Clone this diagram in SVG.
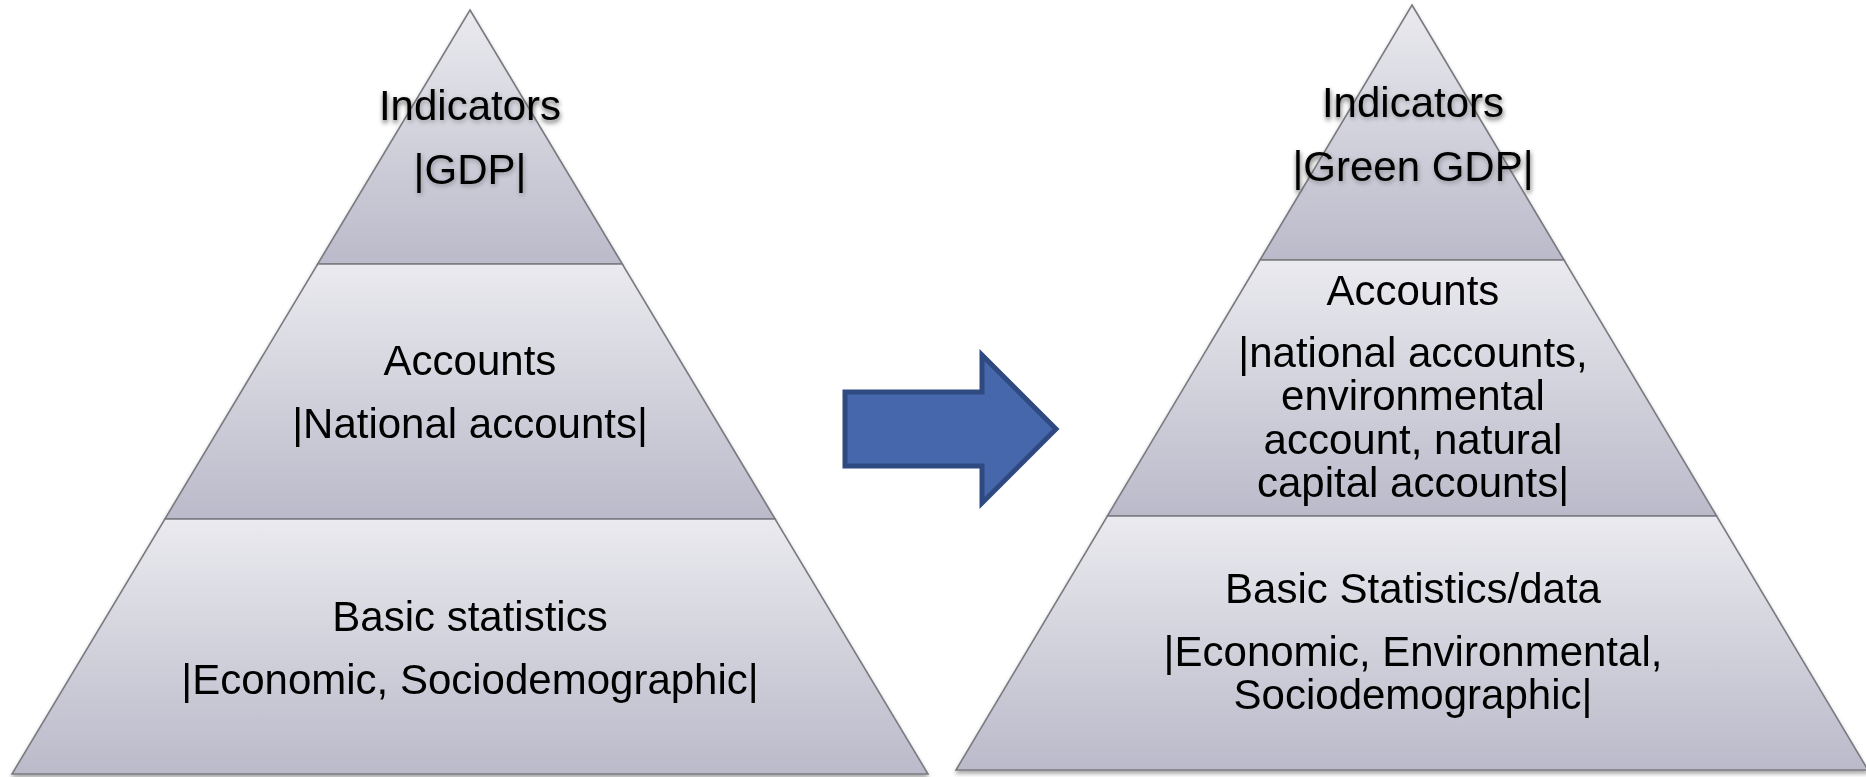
<svg xmlns="http://www.w3.org/2000/svg" width="1866" height="777" viewBox="0 0 1866 777">
<style>
.seg{stroke:#7a7a80;stroke-width:1.6;fill:url(#g)}
.t{font-family:"Liberation Sans",Arial,sans-serif;font-size:42px;fill:#000;text-anchor:middle}
.arrow{fill:#4767AD;stroke:#2F4A80;stroke-width:5;stroke-linejoin:miter}
</style>
<defs>
<linearGradient id="g" x1="0" y1="0" x2="0" y2="1">
<stop offset="0" stop-color="#EAEAEF"/>
<stop offset="1" stop-color="#BABACA"/>
</linearGradient>
<filter id="sh" x="-5%" y="-5%" width="110%" height="115%">
<feGaussianBlur in="SourceAlpha" stdDeviation="2"/>
<feOffset dx="0" dy="3"/>
<feComponentTransfer><feFuncA type="linear" slope="0.35"/></feComponentTransfer>
<feMerge><feMergeNode/><feMergeNode in="SourceGraphic"/></feMerge>
</filter>
<filter id="ts" x="-10%" y="-30%" width="120%" height="160%">
<feGaussianBlur in="SourceAlpha" stdDeviation="2.5"/>
<feOffset dx="1" dy="2"/>
<feComponentTransfer><feFuncA type="linear" slope="0.3"/></feComponentTransfer>
<feMerge><feMergeNode/><feMergeNode in="SourceGraphic"/></feMerge>
</filter>
</defs>
<rect width="1866" height="777" fill="#fff"/>

<g id="left-pyramid" filter="url(#sh)">
<g id="left-indicators">
<polygon class="seg" points="470,10 622.3,264 317.7,264"/>
<text class="t" x="470" y="120" filter="url(#ts)">Indicators</text>
<text class="t" x="470" y="184" filter="url(#ts)">|GDP|</text>
</g>
<g id="left-accounts">
<polygon class="seg" points="317.7,264 622.3,264 775.1,519 164.9,519"/>
<text class="t" x="470" y="375">Accounts</text>
<text class="t" x="470" y="438">|National accounts|</text>
</g>
<g id="left-basic">
<polygon class="seg" points="164.9,519 775.1,519 928,774 12,774"/>
<text class="t" x="470" y="631">Basic statistics</text>
<text class="t" x="470" y="694">|Economic, Sociodemographic|</text>
</g>
</g>

<g id="right-pyramid" filter="url(#sh)">
<g id="right-indicators">
<polygon class="seg" points="1412,5 1564,260 1260,260"/>
<text class="t" x="1413" y="117" filter="url(#ts)">Indicators</text>
<text class="t" x="1413" y="181" filter="url(#ts)">|Green GDP|</text>
</g>
<g id="right-accounts">
<polygon class="seg" points="1260,260 1564,260 1716.6,516 1107.4,516"/>
<text class="t" x="1413" y="305">Accounts</text>
<text class="t" x="1413" y="367">|national accounts,</text>
<text class="t" x="1413" y="410">environmental</text>
<text class="t" x="1413" y="454">account, natural</text>
<text class="t" x="1413" y="497">capital accounts|</text>
</g>
<g id="right-basic">
<polygon class="seg" points="1107.4,516 1716.6,516 1868,770 956,770"/>
<text class="t" x="1413" y="603">Basic Statistics/data</text>
<text class="t" x="1413" y="666">|Economic, Environmental,</text>
<text class="t" x="1413" y="709">Sociodemographic|</text>
</g>
</g>

<g id="connectors">
<polygon class="arrow" points="845,392 982,392 982,355 1056,429 982,503 982,466 845,466"/>
</g>
</svg>
